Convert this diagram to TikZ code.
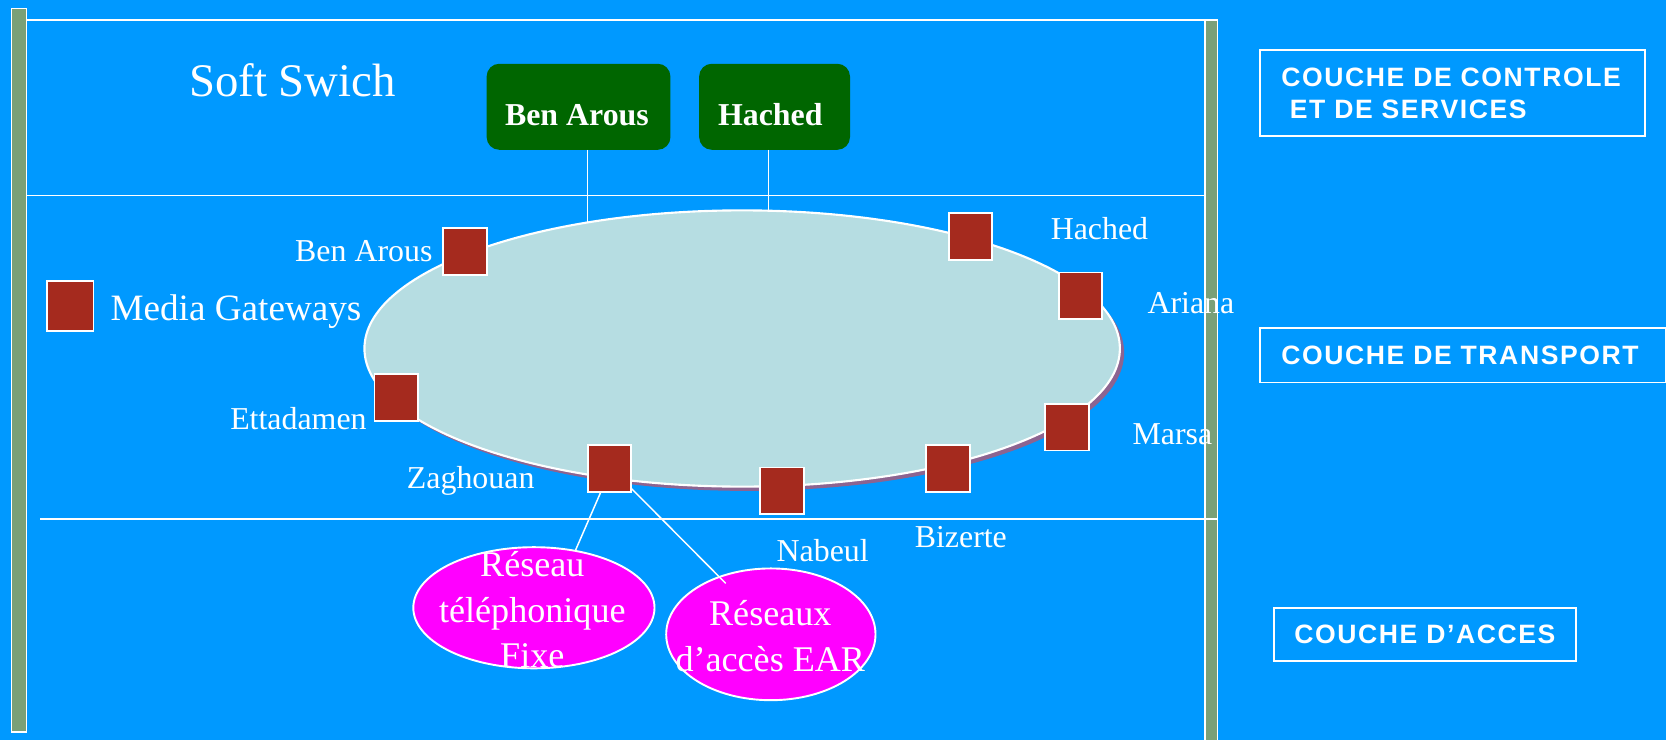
\documentclass[tikz,border=0pt]{standalone}
\usepackage{fontspec}
\setmainfont{Liberation Serif}
\newfontfamily\couchefont[LetterSpace=6]{Liberation Sans}
\usetikzlibrary{shapes.geometric}
\definecolor{bgblue}{RGB}{0,153,255}
\definecolor{bargreen}{RGB}{122,160,120}
\definecolor{ctrlgreen}{RGB}{0,102,0}
\definecolor{ringfill}{RGB}{182,221,226}
\definecolor{ringshadow}{RGB}{140,100,145}
\definecolor{brick}{RGB}{165,42,30}
\definecolor{pink}{RGB}{255,0,255}
\begin{document}
\begin{tikzpicture}[x=1pt,y=-1pt,
  every node/.style={inner sep=0pt,outer sep=0pt},
  wline/.style={draw=white,line width=1.6pt},
  bar/.style={draw=white,line width=1.5pt,fill=bargreen},
  mg/.style={draw=white,line width=1.8pt,fill=brick,minimum width=41pt,minimum height=44pt},
  lbl/.style={text=white,font=\fontsize{30}{36}\selectfont},
  ctrlbox/.style={fill=ctrlgreen,rounded corners=12pt,minimum height=81pt},
  ctrltxt/.style={text=white,font=\fontsize{30}{36}\selectfont\bfseries,anchor=base},
  pinkell/.style={ellipse,draw=white,line width=1.8pt,fill=pink},
  pinktxt/.style={text=white,align=center,font=\fontsize{34}{43}\selectfont},
  couche/.style={draw=white,line width=1.6pt,text=white,align=left,inner xsep=20pt,
    font=\couchefont\bfseries\fontsize{25}{30}\selectfont}
]
\useasboundingbox (0,0) rectangle (1568,696);
\fill[bgblue] (0,0) rectangle (1568,696);

% frame lines and bars
\draw[bar] (11,8) rectangle (25,689);
\draw[bar] (1134,19) rectangle (1146,702);
\coordinate (t1) at (25,19);
\coordinate (t2) at (1146,19);
\coordinate (m1) at (25,184);
\coordinate (m2) at (1134,184);
\coordinate (b1) at (38,488.5);
\coordinate (b2) at (1146,488.5);
\draw[wline] (t1) -- (t2);
\draw[wline] (m1) -- (m2);
\draw[wline] (b1) -- (b2);

% soft switch title
\node[lbl,font=\fontsize{44}{50}\selectfont,anchor=base west] (title) at (178,91) {Soft Swich};

% control boxes
\node[ctrlbox,minimum width=173pt] (ba) at (544.5,100.5) {};
\node[ctrltxt] (baText) at (543,118) {Ben Arous};
\node[ctrlbox,minimum width=142pt] (hb) at (729,100.5) {};
\node[ctrltxt] (hbText) at (725,118) {Hached};

% transport ring
\node[ellipse,fill=ringshadow,minimum width=711pt,minimum height=260pt] (ringsh) at (702.5,332) {};
\node[ellipse,draw=white,line width=2pt,fill=ringfill,minimum width=711pt,minimum height=260pt] (ring) at (698.5,328) {};

\draw[wline,line width=1.3pt] (ba.south -| 553,0) -- (553,0 |- ring.140.8);
\draw[wline,line width=1.3pt] (hb.south -| 723,0) -- (723,0 |- ring.north);

% media gateways
\node[mg] (gBA) at (437.5,236.5) {};
\node[mg] (gHA) at (913.5,222.5) {};
\node[mg] (gAR) at (1017,278.5) {};
\node[mg] (gMA) at (1004,402) {};
\node[mg] (gBI) at (892,441) {};
\node[mg] (gNA) at (736,462) {};
\node[mg] (gZA) at (573.5,441) {};
\node[mg] (gET) at (373,374) {};
\node[mg,minimum width=44pt,minimum height=47pt] (gLeg) at (66,288) {};

% labels
\node[lbl,anchor=base west,font=\fontsize{35}{40}\selectfont] (legText) at (104,302) {Media Gateways};
\node[lbl,anchor=base east] (lBA) at (407,246) {Ben Arous};
\node[lbl,anchor=base west] (lHA) at (989,225) {Hached};
\node[lbl,anchor=base west] (lAR) at (1080,295) {Ariana};
\node[lbl,anchor=base west] (lMA) at (1066,418) {Marsa};
\node[lbl,anchor=base west] (lBI) at (861,515) {Bizerte};
\node[lbl,anchor=base west] (lNA) at (731,528) {Nabeul};
\node[lbl,anchor=base east] (lZA) at (503,460) {Zaghouan};
\node[lbl,anchor=base east] (lET) at (345,404) {Ettadamen};

% access networks
\node[pinkell,minimum width=227pt,minimum height=114pt] (fixe) at (502.5,572) {};
\node[pinkell,minimum width=197pt,minimum height=124pt] (ear) at (725.5,597) {};
\coordinate (earEnd) at (683,549);
\draw[wline,line width=1.4pt] (gZA.-110) -- (fixe.54);
\draw[wline,line width=1.4pt] (gZA.-42) -- (earEnd);
\node[pinktxt] (fixeText) at (501,574) {Réseau\\téléphonique\\Fixe};
\node[pinktxt] (earText) at (725,599) {Réseaux\\d’accès EAR};

% layer boxes
\node[couche,anchor=north west,minimum height=81pt,text width=322pt] (cCtrl) at (1186,47)
  {COUCHE DE CONTROLE\\\hspace*{8pt}ET DE SERVICES};
\node[couche,anchor=north west,minimum height=51pt,text width=342pt] (cTrans) at (1186,309)
  {COUCHE DE TRANSPORT};
\node[couche,align=center,inner xsep=0pt,anchor=north west,minimum height=50pt,minimum width=284pt] (cAcc) at (1199,572)
  {COUCHE D’ACCES};
\end{tikzpicture}
\end{document}
